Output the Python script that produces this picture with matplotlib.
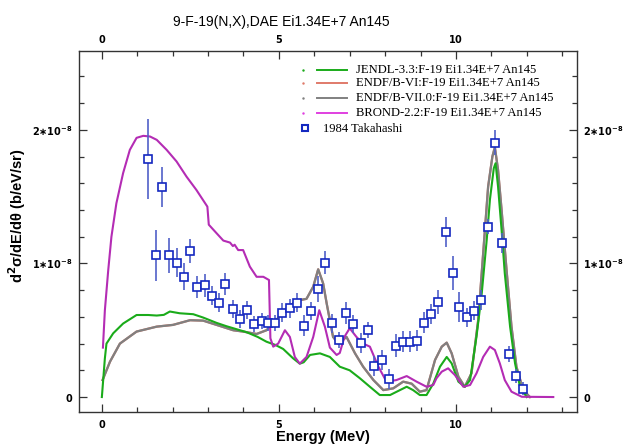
import matplotlib
matplotlib.use("Agg")
import matplotlib.pyplot as plt
from matplotlib.lines import Line2D
from matplotlib.ticker import MultipleLocator, FixedLocator, FuncFormatter

SCALE = 1e-8

# ---- evaluated curves (energy MeV, value in units of 1e-8 b/eV/sr) ----
jendl_E = [0.00, 0.085, 0.13, 0.32, 0.60, 0.98, 1.31, 1.55, 1.75, 1.92, 2.20, 2.58, 2.86, 3.24, 3.52,
           3.90, 4.09, 4.40, 4.65, 4.90, 5.12, 5.40, 5.59, 5.70, 5.88, 6.16, 6.44, 6.72, 7.00, 7.29,
           7.57, 7.85, 8.14, 8.42, 8.61, 8.79, 8.98, 9.17, 9.36, 9.55, 9.74, 9.88, 10.07, 10.25, 10.40,
           10.58, 10.73, 10.87, 10.96, 11.07, 11.12, 11.19, 11.29, 11.38, 11.53, 11.67, 11.81, 12.00]
jendl_y = [0.0, 0.29, 0.40, 0.477, 0.55, 0.614, 0.614, 0.61, 0.615, 0.64, 0.627, 0.62, 0.595, 0.555, 0.53,
           0.50, 0.485, 0.45, 0.414, 0.39, 0.36, 0.29, 0.25, 0.26, 0.315, 0.327, 0.30, 0.227, 0.20, 0.14,
           0.077, 0.015, 0.015, 0.052, 0.077, 0.052, 0.015, 0.015, 0.10, 0.227, 0.30, 0.252, 0.115, 0.077, 0.127,
           0.45, 0.777, 1.176, 1.476, 1.713, 1.75, 1.575, 1.25, 0.927, 0.527, 0.252, 0.077, 0.0]

endf7_E = [0.02, 0.23, 0.51, 0.98, 1.55, 2.01, 2.49, 2.86, 3.24, 3.71, 3.99, 4.37, 4.65, 4.93, 5.22,
           5.50, 5.78, 5.97, 6.11, 6.25, 6.35, 6.53, 6.68, 6.91, 7.15, 7.38, 7.67, 7.95, 8.23, 8.51,
           8.75, 8.98, 9.17, 9.41, 9.60, 9.74, 9.88, 10.07, 10.25, 10.44, 10.63, 10.77, 10.91, 11.03,
           11.10, 11.19, 11.29, 11.43, 11.57, 11.71, 11.90, 12.09]
endf7_y = [0.127, 0.265, 0.40, 0.49, 0.527, 0.54, 0.575, 0.572, 0.54, 0.50, 0.49, 0.472, 0.50, 0.577, 0.664,
           0.721, 0.735, 0.826, 0.956, 0.85, 0.70, 0.45, 0.40, 0.45, 0.327, 0.227, 0.127, 0.052, 0.065, 0.115,
           0.10, 0.04, 0.052, 0.277, 0.377, 0.407, 0.327, 0.152, 0.077, 0.177, 0.577, 1.076, 1.575, 1.80,
           1.87, 1.70, 1.40, 0.951, 0.527, 0.227, 0.052, 0.0]

endf6_E = [0.02, 0.23, 0.51, 0.98, 1.55, 2.01, 2.49, 2.86, 3.24, 3.71, 3.99, 4.37, 4.65, 4.93, 5.22,
           5.50, 5.78, 5.97, 6.11, 6.25, 6.35, 6.53, 6.68, 6.91, 7.15, 7.38, 7.67, 7.95, 8.23, 8.51,
           8.75, 8.98, 9.17, 9.41, 9.60, 9.74, 9.88, 10.07, 10.25, 10.44, 10.63, 10.77, 10.91, 11.03,
           11.10, 11.19, 11.29, 11.43, 11.57, 11.71, 11.90, 12.09]
endf6_y = [0.127, 0.265, 0.40, 0.49, 0.527, 0.54, 0.575, 0.572, 0.54, 0.50, 0.49, 0.472, 0.50, 0.577, 0.664,
           0.721, 0.735, 0.826, 0.956, 0.85, 0.70, 0.45, 0.40, 0.45, 0.327, 0.227, 0.127, 0.052, 0.065, 0.115,
           0.10, 0.04, 0.052, 0.277, 0.377, 0.407, 0.327, 0.152, 0.077, 0.177, 0.577, 1.076, 1.575, 1.80,
           1.87, 1.70, 1.40, 0.951, 0.527, 0.227, 0.052, 0.0]

brond_E = [0.03, 0.085, 0.18, 0.27, 0.41, 0.60, 0.79, 0.98, 1.17, 1.36, 1.55, 1.83, 2.11, 2.39, 2.67,
           2.98, 3.02, 3.24, 3.43, 3.62, 3.70, 3.75, 3.85, 3.99, 4.18, 4.37, 4.56, 4.72, 4.76, 4.84,
           4.98, 5.17, 5.31, 5.45, 5.59, 5.78, 5.97, 6.14, 6.30, 6.44, 6.63, 6.72, 6.85, 7.00, 7.19,
           7.38, 7.57, 7.81, 8.04, 8.32, 8.61, 8.89, 9.17, 9.36, 9.45, 9.60, 9.78, 9.97, 10.21, 10.40,
           10.58, 10.77, 10.96, 11.10, 11.24, 11.38, 11.57, 11.86, 12.75]
brond_y = [0.37, 0.65, 0.95, 1.20, 1.45, 1.676, 1.85, 1.94, 1.955, 1.95, 1.925, 1.85, 1.763, 1.65, 1.55,
           1.425, 1.29, 1.226, 1.171, 1.156, 1.13, 1.14, 1.10, 1.10, 0.976, 0.90, 0.90, 0.876, 0.44, 0.377,
           0.40, 0.50, 0.45, 0.30, 0.25, 0.30, 0.45, 0.65, 0.526, 0.37, 0.315, 0.33, 0.45, 0.515, 0.45,
           0.40, 0.377, 0.227, 0.115, 0.127, 0.157, 0.115, 0.077, 0.09, 0.14, 0.19, 0.215, 0.165, 0.077, 0.09,
           0.177, 0.30, 0.377, 0.352, 0.252, 0.127, 0.04, 0.002, 0.0]

# ---- experimental data: 1984 Takahashi ----
exp_E = [1.31, 1.52, 1.70, 1.90, 2.11, 2.31, 2.49, 2.70, 2.90, 3.11, 3.30, 3.49, 3.70, 3.90, 4.10,
         4.30, 4.51, 4.69, 4.90, 5.10, 5.31, 5.50, 5.71, 5.90, 6.10, 6.31, 6.51, 6.69, 6.90, 7.10,
         7.31, 7.51, 7.69, 7.90, 8.11, 8.30, 8.50, 8.70, 8.90, 9.11, 9.31, 9.50, 9.71, 9.92, 10.10,
         10.30, 10.51, 10.70, 10.90, 11.10, 11.29, 11.50, 11.70, 11.90]
exp_y = [1.78, 1.06, 1.57, 1.06, 1.006, 0.90, 1.09, 0.824, 0.837, 0.759, 0.706, 0.846, 0.659, 0.584, 0.652,
         0.547, 0.567, 0.552, 0.557, 0.631, 0.664, 0.706, 0.534, 0.644, 0.809, 1.006, 0.552, 0.427, 0.631, 0.547,
         0.402, 0.504, 0.232, 0.277, 0.135, 0.384, 0.414, 0.414, 0.422, 0.557, 0.619, 0.714, 1.234, 0.927, 0.674,
         0.597, 0.646, 0.727, 1.276, 1.905, 1.156, 0.320, 0.157, 0.062]
exp_err = [0.30, 0.19, 0.15, 0.13, 0.11, 0.10, 0.09, 0.085, 0.085, 0.07, 0.07, 0.08, 0.07, 0.07, 0.07,
           0.06, 0.06, 0.06, 0.06, 0.07, 0.07, 0.07, 0.08, 0.07, 0.10, 0.087, 0.07, 0.06, 0.084, 0.07,
           0.075, 0.06, 0.075, 0.075, 0.075, 0.087, 0.08, 0.08, 0.08, 0.08, 0.075, 0.09, 0.11, 0.125, 0.11,
           0.07, 0.07, 0.075, 0.055, 0.095, 0.075, 0.06, 0.05, 0.05]

legend_labels = ["JENDL-3.3:F-19 Ei1.34E+7 An145",
                 "ENDF/B-VI:F-19 Ei1.34E+7 An145",
                 "ENDF/B-VII.0:F-19 Ei1.34E+7 An145",
                 "BROND-2.2:F-19 Ei1.34E+7 An145",
                 "1984 Takahashi"]
title = "9-F-19(N,X),DAE Ei1.34E+7 An145"

C_GREEN = "#1aab1a"
C_RED = "#e07a6a"
C_GRAY = "#808080"
C_MAG = "#b42cb4"
C_MAG_LEG = "#e040e0"
C_BLUE = "#1428c0"
C_ERR = "#5060c8"

W, H = 624, 444
fig = plt.figure(figsize=(W / 100, H / 100), dpi=100)
ax = fig.add_axes([78.5 / W, 1 - 412 / H, (577 - 78.5) / W, (412 - 51) / H])


def sc(v):
    return [a * SCALE for a in v]


ax.plot(endf6_E, sc(endf6_y), color=C_RED, lw=1.6, zorder=2)
ax.plot(endf7_E, sc(endf7_y), color=C_GRAY, lw=1.6, zorder=3)
ax.plot(jendl_E, sc(jendl_y), color=C_GREEN, lw=1.5, zorder=4)
ax.plot(brond_E, sc(brond_y), color=C_MAG, lw=1.5, zorder=5)
ax.errorbar(exp_E, sc(exp_y), yerr=sc(exp_err), fmt="none", ecolor=C_ERR, elinewidth=1.2, capsize=0, zorder=6)
ax.plot(exp_E, sc(exp_y), ls="none", marker="s", ms=5.5, mfc="white", mec=C_BLUE, mew=1.2, zorder=7)

ax.set_xlim(-0.66, 13.42)
ax.set_ylim(-0.112 * SCALE, 2.59 * SCALE)

ax.xaxis.set_major_locator(FixedLocator([0, 5, 10]))
ax.xaxis.set_minor_locator(MultipleLocator(1))
ax.yaxis.set_major_locator(FixedLocator([0, 1 * SCALE, 2 * SCALE]))
ax.yaxis.set_minor_locator(MultipleLocator(0.2 * SCALE))


def yfmt(v, pos):
    n = round(v / SCALE)
    if n == 0:
        return r"$\mathbf{0}$"
    return r"$\mathbf{%d{\ast}10^{-8}}$" % n


ax.yaxis.set_major_formatter(FuncFormatter(yfmt))
ax.xaxis.set_major_formatter(FuncFormatter(lambda v, p: r"$\mathbf{%d}$" % round(v)))

ax.tick_params(which="both", direction="in", top=True, right=True,
               labeltop=True, labelright=True, labelsize=7, width=0.9, color="#333333")
ax.tick_params(which="major", length=5.5, pad=4)
ax.tick_params(which="minor", length=3.5)
for s in ax.spines.values():
    s.set_linewidth(1.0)
    s.set_color("#333333")

# Titles / labels
fig.text(281 / W, 1 - 22 / H, title, ha="center", va="center", fontsize=10, family="Liberation Sans")
fig.text(323 / W, 1 - 437 / H, "Energy (MeV)", ha="center", va="center", fontsize=10.5, fontweight="bold",
         family="Liberation Sans")
fig.text(17 / W, 1 - 216 / H, r"d$^{\mathbf{2}}$σ/dE/dθ (b/eV/sr)", ha="center", va="center", rotation=90,
         fontsize=10.5, fontweight="bold", family="Liberation Sans")

# Legend (manual)
rows_y = [70, 83.5, 98, 113]
line_cols = [C_GREEN, C_RED, C_GRAY, C_MAG_LEG]
for yy, col, lab in zip(rows_y, line_cols, legend_labels[:4]):
    fy = 1 - yy / H
    fig.add_artist(Line2D([317 / W, 347 / W], [fy, fy], color=col, lw=1.4))
    fig.add_artist(Line2D([303 / W], [fy], color=col, marker=".", ms=1.5, ls="none"))
    fig.text(356 / W, fy, lab, ha="left", va="center", fontsize=9.1, family="Liberation Serif")
fy = 1 - 128.5 / H
fig.add_artist(Line2D([305 / W], [fy], ls="none", marker="s", ms=5, mfc="white", mec=C_BLUE, mew=1.5))
fig.text(323 / W, fy, legend_labels[4], ha="left", va="center", fontsize=9.1, family="Liberation Serif")

fig.savefig("out.png", dpi=100)
